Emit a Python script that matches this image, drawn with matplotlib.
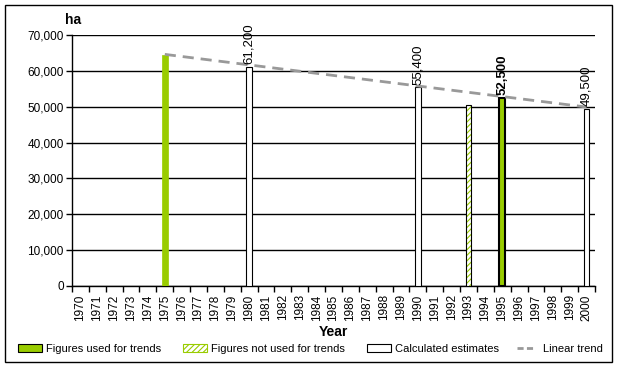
import matplotlib.pyplot as plt
from matplotlib.patches import Rectangle, Patch
from matplotlib.lines import Line2D
import numpy as np

plt.rcParams['font.family'] = ['Liberation Sans', 'DejaVu Sans']

# Data
years = list(range(1970, 2001))
used_years = [1975, 1995]
used_values = [64500, 52500]
notused_years = [1993]
notused_values = [50500]
calc_years = [1980, 1990, 2000]
calc_values = [61200, 55400, 49500]
label_years = [1980, 1990, 1995, 2000]
label_values = [61200, 55400, 52500, 49500]
trend_years = [1975, 2000]
trend_values = [64600, 49900]

green = '#99CC00'
pos = {y: i for i, y in enumerate(years)}

fig = plt.figure(figsize=(6.18, 3.67), dpi=100)
ax = fig.add_axes([72 / 618, 1 - 286 / 367, 523 / 618, 251 / 367])

w = 0.34
# figures used for trends
ax.bar([pos[y] for y in used_years[:1]], used_values[:1], width=w,
       color=green, edgecolor=green, linewidth=0.5, zorder=3)
ax.bar([pos[y] for y in used_years[1:]], used_values[1:], width=w,
       color=green, edgecolor='black', linewidth=1.5, zorder=3)
# figures not used for trends (hatched)
plt.rcParams['hatch.linewidth'] = 0.8
ax.bar([pos[y] for y in notused_years], notused_values, width=w,
       color='white', edgecolor=green, hatch='//////', linewidth=0, zorder=3)
ax.bar([pos[y] for y in notused_years], notused_values, width=w,
       fill=False, edgecolor='black', linewidth=0.8, zorder=3)
# calculated estimates
ax.bar([pos[y] for y in calc_years], calc_values, width=w,
       color='white', edgecolor='black', linewidth=0.8, zorder=3)

# linear trend
ax.plot([pos[y] for y in trend_years], trend_values, color='#999999',
        linestyle=(0, (4, 2.5)), linewidth=2, zorder=4)

# value labels
for y, v in zip(label_years, label_values):
    ax.annotate(f'{v:,}', (pos[y], v), xytext=(0, 2), textcoords='offset points',
                rotation=90, ha='center', va='bottom', fontsize=9.5,
                fontweight='bold' if y == 1995 else 'normal', zorder=5)

ax.set_ylim(0, 70000)
ax.set_xlim(-0.5, len(years) - 0.5)
ax.set_yticks(range(0, 70001, 10000))
ax.set_yticklabels([f'{v:,}' for v in range(0, 70001, 10000)], fontsize=8.5)
ax.yaxis.grid(True, color='black', linewidth=1)
ax.set_axisbelow(True)
ax.tick_params(axis='y', length=4, width=1, pad=2)

ax.set_xticks(range(len(years)))
ax.set_xticklabels([str(y) for y in years], rotation=90, fontsize=8.5)
ax.tick_params(axis='x', which='major', length=0, pad=6)
ax.set_xticks(np.arange(-0.5, len(years)), minor=True)
ax.tick_params(axis='x', which='minor', length=4, width=1)

for s in ['top', 'right']:
    ax.spines[s].set_visible(False)
ax.spines['left'].set_linewidth(1)
ax.spines['bottom'].set_linewidth(1)

ax.set_xlabel('Year', fontsize=10, fontweight='bold', labelpad=3)
fig.text(65 / 618, 1 - 20 / 367, 'ha', fontsize=10, fontweight='bold',
         ha='left', va='center')

# legend, one entry at a time to match the spread-out layout
handles = [
    Patch(facecolor=green, edgecolor='black', linewidth=0.8),
    Patch(facecolor='white', edgecolor=green, hatch='//////', linewidth=0.8),
    Patch(facecolor='white', edgecolor='black', linewidth=0.8),
    Line2D([], [], color='#999999', linestyle=(0, (2.2, 1.2)), linewidth=2),
]
names = ['Figures used for trends', 'Figures not used for trends',
         'Calculated estimates', 'Linear trend']
xs = [18, 183, 367, 517]
hlen = [2.2, 2.2, 2.2, 1.4]
hpad = [0.3, 0.3, 0.3, 0.9]
for h, n, x, hl, hp in zip(handles, names, xs, hlen, hpad):
    fig.legend([h], [n], loc='center left', frameon=False,
               bbox_to_anchor=(x / 618, 1 - 349 / 367),
               fontsize=8, handlelength=hl, handleheight=0.8,
               handletextpad=hp, borderaxespad=0, borderpad=0)

fig.add_artist(Rectangle((5 / 618, 5 / 367), 607 / 618, 357 / 367,
                         transform=fig.transFigure, fill=False,
                         edgecolor='black', linewidth=1))

fig.savefig('out.png', dpi=100)
